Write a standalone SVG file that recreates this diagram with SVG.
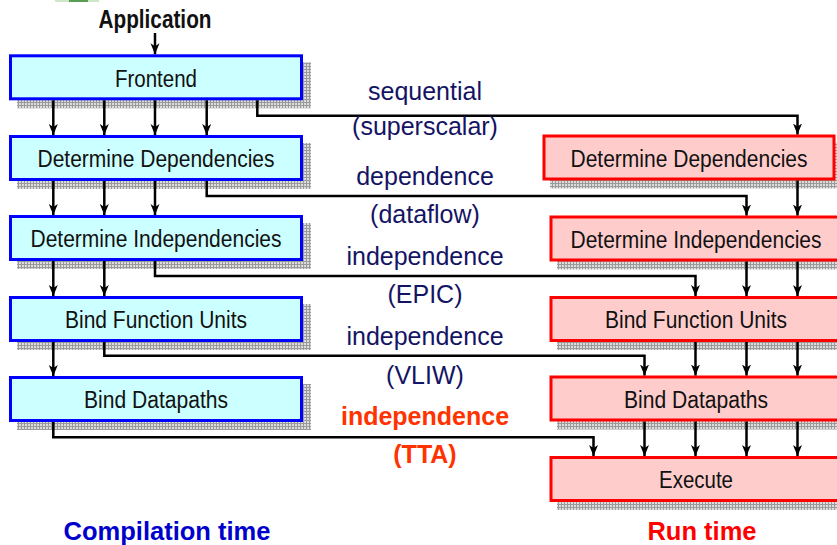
<svg xmlns="http://www.w3.org/2000/svg" width="837" height="545" viewBox="0 0 837 545">
<defs>
<pattern id="grid" width="3" height="3" patternUnits="userSpaceOnUse">
<rect width="3" height="3" fill="#dcdcdc"/>
<path d="M0,0.5 H3 M0.5,0 V3" stroke="#9a9a9a" stroke-width="1"/>
</pattern>
<marker id="arr" markerUnits="userSpaceOnUse" markerWidth="11" markerHeight="10" refX="11" refY="5" orient="auto">
<path d="M0,0.5 L11,5 L0,9.5 L3,5 z" fill="#000"/>
</marker>
<style>
.shadow{fill:url(#grid)}
.cb{fill:#ccffff;stroke:#0000ff;stroke-width:3}
.rb{fill:#ffcccc;stroke:#ff0000;stroke-width:3}
.bt{font-family:"Liberation Sans Narrow","Liberation Sans",Arial,sans-serif;font-size:23.5px;fill:#111;text-anchor:middle}
.lbl{font-family:"Liberation Sans",Arial,sans-serif;font-size:25px;fill:#141464;text-anchor:middle}
.lblr{font-family:"Liberation Sans",Arial,sans-serif;font-size:25px;font-weight:bold;fill:#ff3300;text-anchor:middle}
.title{font-family:"Liberation Sans",Arial,sans-serif;font-size:25.5px;font-weight:bold;text-anchor:middle}
.ln{fill:none;stroke:#000;stroke-width:2.5}
.ar{fill:none;stroke:#000;stroke-width:2.5;marker-end:url(#arr)}
</style>
</defs>
<rect width="837" height="545" fill="#fff"/>
<rect x="55" y="0" width="44" height="2" fill="#cfe6c8"/>
<rect x="69" y="0" width="19" height="2" fill="#5a9e55"/>

<g id="application">
<text class="title" x="155" y="28" fill="#111" textLength="113" lengthAdjust="spacingAndGlyphs">Application</text>
</g>

<g id="c-frontend">
<rect class="shadow" x="17" y="62.3" width="294" height="46"/>
<rect class="cb" x="10.5" y="55.8" width="291" height="43"/>
<text class="bt" x="156" y="86.7" textLength="82" lengthAdjust="spacingAndGlyphs">Frontend</text>
</g>
<g id="c-deps">
<rect class="shadow" x="17" y="143" width="294" height="46"/>
<rect class="cb" x="10.5" y="136.5" width="291" height="43"/>
<text class="bt" x="156" y="167" textLength="237" lengthAdjust="spacingAndGlyphs">Determine Dependencies</text>
</g>
<g id="c-indeps">
<rect class="shadow" x="17" y="223" width="294" height="46"/>
<rect class="cb" x="10.5" y="216.5" width="291" height="43"/>
<text class="bt" x="156" y="247" textLength="251" lengthAdjust="spacingAndGlyphs">Determine Independencies</text>
</g>
<g id="c-bfu">
<rect class="shadow" x="17" y="304" width="294" height="46"/>
<rect class="cb" x="10.5" y="297.5" width="291" height="43"/>
<text class="bt" x="156" y="328" textLength="182" lengthAdjust="spacingAndGlyphs">Bind Function Units</text>
</g>
<g id="c-bdp">
<rect class="shadow" x="17" y="384" width="294" height="46"/>
<rect class="cb" x="10.5" y="377.5" width="291" height="43"/>
<text class="bt" x="156" y="408" textLength="144" lengthAdjust="spacingAndGlyphs">Bind Datapaths</text>
</g>

<g id="r-deps">
<rect class="shadow" x="550" y="142.5" width="294" height="46"/>
<rect class="rb" x="544" y="136" width="290" height="43"/>
<text class="bt" x="689" y="166.5" textLength="237" lengthAdjust="spacingAndGlyphs">Determine Dependencies</text>
</g>
<g id="r-indeps">
<rect class="shadow" x="557" y="223.5" width="294" height="46"/>
<rect class="rb" x="551" y="217" width="291" height="43"/>
<text class="bt" x="696" y="247.5" textLength="251" lengthAdjust="spacingAndGlyphs">Determine Independencies</text>
</g>
<g id="r-bfu">
<rect class="shadow" x="557" y="304" width="294" height="46"/>
<rect class="rb" x="551" y="297.5" width="291" height="43"/>
<text class="bt" x="696" y="328" textLength="182" lengthAdjust="spacingAndGlyphs">Bind Function Units</text>
</g>
<g id="r-bdp">
<rect class="shadow" x="557" y="383.5" width="294" height="46"/>
<rect class="rb" x="551" y="377" width="291" height="43"/>
<text class="bt" x="696" y="407.5" textLength="144" lengthAdjust="spacingAndGlyphs">Bind Datapaths</text>
</g>
<g id="r-exec">
<rect class="shadow" x="557" y="464" width="294" height="46"/>
<rect class="rb" x="551" y="457.5" width="291" height="43"/>
<text class="bt" x="696" y="488" textLength="74" lengthAdjust="spacingAndGlyphs">Execute</text>
</g>

<g id="connectors">
<path class="ar" d="M155,33 V54.3"/>
<path class="ar" d="M53.3,100.3 V135"/>
<path class="ar" d="M104.3,100.3 V135"/>
<path class="ar" d="M155,100.3 V135"/>
<path class="ar" d="M206.7,100.3 V135"/>
<path class="ar" d="M53.3,181 V215"/>
<path class="ar" d="M104.3,181 V215"/>
<path class="ar" d="M155,181 V215"/>
<path class="ar" d="M53.3,261 V296"/>
<path class="ar" d="M104.3,261 V296"/>
<path class="ar" d="M53.3,342 V376"/>

<path class="ar" d="M257.3,100.3 V115.7 H797.5 V134.5"/>
<path class="ar" d="M206.7,181 V196 H746.5 V215.5"/>
<path class="ar" d="M155,261 V276 H695.5 V296"/>
<path class="ar" d="M104.3,342 V355.7 H644.5 V375.5"/>
<path class="ar" d="M53.3,422 V437.3 H593.5 V456"/>

<path class="ar" d="M797.5,180.5 V215.5"/>
<path class="ar" d="M746.5,261.5 V296"/>
<path class="ar" d="M797.5,261.5 V296"/>
<path class="ar" d="M695.5,342 V375.5"/>
<path class="ar" d="M746.5,342 V375.5"/>
<path class="ar" d="M797.5,342 V375.5"/>
<path class="ar" d="M644.5,421.5 V456"/>
<path class="ar" d="M695.5,421.5 V456"/>
<path class="ar" d="M746.5,421.5 V456"/>
<path class="ar" d="M797.5,421.5 V456"/>
</g>

<g id="labels">
<text class="lbl" x="425" y="100">sequential</text>
<text class="lbl" x="425" y="135">(superscalar)</text>
<text class="lbl" x="425" y="185">dependence</text>
<text class="lbl" x="425" y="223">(dataflow)</text>
<text class="lbl" x="425" y="265">independence</text>
<text class="lbl" x="425" y="303">(EPIC)</text>
<text class="lbl" x="425" y="345">independence</text>
<text class="lbl" x="425" y="384">(VLIW)</text>
<text class="lblr" x="425" y="425">independence</text>
<text class="lblr" x="425" y="463">(TTA)</text>
</g>

<g id="footer">
<text class="title" x="167" y="540" fill="#0000cc">Compilation time</text>
<text class="title" x="702" y="540" fill="#ff0000">Run time</text>
</g>
</svg>
